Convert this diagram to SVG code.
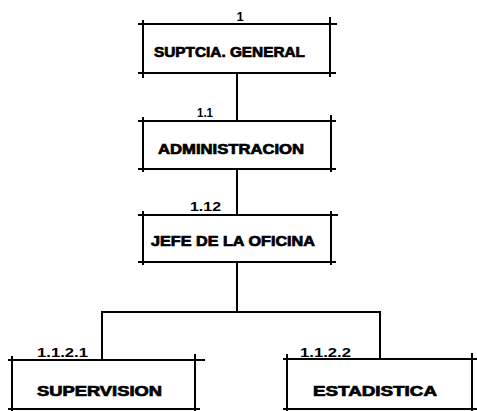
<svg xmlns="http://www.w3.org/2000/svg" width="477" height="411" viewBox="0 0 477 411">
<style>
  .edge{stroke:#000;stroke-width:2;fill:none;stroke-linecap:square}
  .box line{stroke:#000;stroke-width:2}
  .lbl{font-family:"Liberation Sans",Arial,sans-serif;font-weight:bold;font-size:14px;fill:#000;stroke:#000;stroke-width:0.7}
  .num{font-family:"Liberation Sans",Arial,sans-serif;font-weight:bold;font-size:13px;fill:#000}
</style>
<rect width="477" height="411" fill="#fff"/>
<g id="connectors">
  <line class="edge" x1="237" y1="73" x2="237" y2="121"/>
  <line class="edge" x1="237" y1="169" x2="237" y2="215"/>
  <line class="edge" x1="237" y1="262" x2="237" y2="312"/>
  <line class="edge" x1="102" y1="312" x2="380" y2="312"/>
  <line class="edge" x1="102" y1="312" x2="102" y2="360"/>
  <line class="edge" x1="380" y1="312" x2="380" y2="359"/>
</g>
<g id="n1" class="box">
  <line x1="138" y1="24" x2="337" y2="24"/>
  <line x1="138" y1="73" x2="336" y2="73"/>
  <line x1="143" y1="20" x2="143" y2="78"/>
  <line x1="330" y1="17" x2="330" y2="77"/>
  <text class="num" x="240" y="21" text-anchor="middle">1</text>
  <text class="lbl" x="154" y="57" textLength="151" lengthAdjust="spacingAndGlyphs">SUPTCIA. GENERAL</text>
</g>
<g id="n11" class="box">
  <line x1="138" y1="121" x2="336" y2="121"/>
  <line x1="138" y1="169" x2="336" y2="169"/>
  <line x1="143" y1="117" x2="143" y2="172"/>
  <line x1="331" y1="115" x2="331" y2="172"/>
  <text class="num" x="197" y="117" textLength="16" lengthAdjust="spacingAndGlyphs">1.1</text>
  <text class="lbl" x="158" y="154" textLength="146" lengthAdjust="spacingAndGlyphs">ADMINISTRACION</text>
</g>
<g id="n112" class="box">
  <line x1="138" y1="215" x2="338" y2="215"/>
  <line x1="138" y1="262" x2="336" y2="262"/>
  <line x1="143" y1="211" x2="143" y2="265"/>
  <line x1="331" y1="211" x2="331" y2="265"/>
  <text class="num" x="190" y="211" textLength="31" lengthAdjust="spacingAndGlyphs">1.12</text>
  <text class="lbl" x="151" y="246" textLength="164" lengthAdjust="spacingAndGlyphs">JEFE DE LA OFICINA</text>
</g>
<g id="n1121" class="box">
  <line x1="8" y1="360" x2="205" y2="360"/>
  <line x1="8" y1="409" x2="200" y2="409"/>
  <line x1="12" y1="356" x2="12" y2="411"/>
  <line x1="195" y1="354" x2="195" y2="411"/>
  <text class="num" x="37" y="357" textLength="51" lengthAdjust="spacingAndGlyphs">1.1.2.1</text>
  <text class="lbl" x="37" y="396" textLength="125" lengthAdjust="spacingAndGlyphs">SUPERVISION</text>
</g>
<g id="n1122" class="box">
  <line x1="283" y1="359" x2="477" y2="359"/>
  <line x1="283" y1="409" x2="477" y2="409"/>
  <line x1="287" y1="354" x2="287" y2="411"/>
  <line x1="472" y1="353" x2="472" y2="411"/>
  <text class="num" x="300" y="357" textLength="51" lengthAdjust="spacingAndGlyphs">1.1.2.2</text>
  <text class="lbl" x="313" y="396" textLength="124" lengthAdjust="spacingAndGlyphs">ESTADISTICA</text>
</g>
</svg>
